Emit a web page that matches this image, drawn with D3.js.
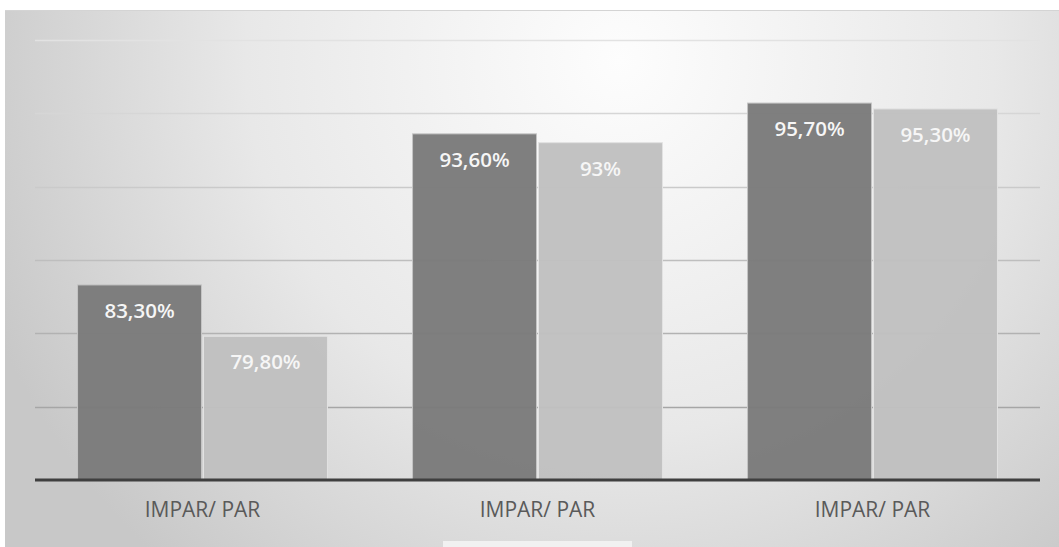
<!DOCTYPE html>
<html><head><meta charset="utf-8">
<script src="https://cdn.jsdelivr.net/npm/d3@7"></script>
<style>
html,body{margin:0;padding:0;background:#fff;}
svg{display:block;}
</style></head>
<body><svg id="chart" width="1059" height="547"></svg>
<script>
const categories = ["IMPAR/ PAR", "IMPAR/ PAR", "IMPAR/ PAR"];
const groupIds = ["g1", "g2", "g3"];
const seriesNames = ["impar", "par"];
const imparValues = [83.3, 93.6, 95.7];
const parValues = [79.8, 93.0, 95.3];
const valueLabels = [["83,30%", "79,80%"], ["93,60%", "93%"], ["95,70%", "95,30%"]];
const yTicks = [70, 75, 80, 85, 90, 95, 100];

(function () {
const W = 1059, H = 547;
const svg = d3.select("#chart");
const defs = svg.append("defs");
const grad = defs.append("radialGradient").attr("id", "bg")
  .attr("gradientUnits", "userSpaceOnUse")
  .attr("cx", 620).attr("cy", 60).attr("r", 680);
grad.append("stop").attr("offset", 0).attr("stop-color", "#fdfdfd");
grad.append("stop").attr("offset", 0.55).attr("stop-color", "#e8e8e8");
grad.append("stop").attr("offset", 1).attr("stop-color", "#c8c8c8");

svg.append("rect").attr("x", 5).attr("y", 10).attr("width", W - 5).attr("height", H - 10)
  .attr("fill", "url(#bg)");
svg.append("line").attr("x1", 5).attr("x2", W).attr("y1", 10.5).attr("y2", 10.5)
  .attr("stroke", "#d4d4d4").attr("stroke-width", 1);
svg.append("rect").attr("x", 443).attr("y", 541).attr("width", 189).attr("height", 6)
  .attr("fill", "#f1f1f1");

const mLeft = 35, mRight = 1040, mTop = 40, mBottom = 480;
const x0 = d3.scaleBand().domain(groupIds).range([mLeft, mRight])
  .paddingInner(0.254).paddingOuter(0.127);
const x1 = d3.scaleBand().domain(seriesNames).range([0, x0.bandwidth()])
  .paddingInner(0.016).paddingOuter(0);
const y = d3.scaleLinear().domain([70, 100]).range([mBottom, mTop]);

const gridColor = d3.scaleLinear().domain([100, 70]).range(["#e2e2e2", "#9a9a9a"]);
svg.append("g").selectAll("line").data(yTicks.filter(t => t > 70)).join("line")
  .attr("x1", mLeft).attr("x2", mRight)
  .attr("y1", d => Math.round(y(d)) + 0.5).attr("y2", d => Math.round(y(d)) + 0.5)
  .attr("stroke", d => gridColor(d)).attr("stroke-width", 1.3);

const data = groupIds.map((g, i) => ({g, i, vals: [imparValues[i], parValues[i]]}));
const fills = {impar: "#7b7b7b", par: "#c0c0c0"};
const strokes = {impar: "#c4c4c4", par: "#e2e2e2"};

const groups = svg.append("g").selectAll("g").data(data).join("g")
  .attr("transform", d => `translate(${x0(d.g)},0)`);
groups.selectAll("rect").data(d => seriesNames.map((s, k) => ({s, v: d.vals[k]}))).join("rect")
  .attr("x", d => x1(d.s)).attr("width", x1.bandwidth())
  .attr("y", d => y(d.v)).attr("height", d => y(70) - y(d.v))
  .attr("fill", d => fills[d.s]).attr("fill-opacity", 0.97)
  .attr("stroke", d => strokes[d.s]).attr("stroke-width", 1);
groups.selectAll("text").data(d => seriesNames.map((s, k) => ({s, v: d.vals[k], lab: valueLabels[d.i][k]}))).join("text")
  .attr("x", d => x1(d.s) + x1.bandwidth() / 2)
  .attr("y", d => y(d.v) + 26).attr("dy", "0.35em")
  .attr("text-anchor", "middle")
  .attr("font-family", "'Open Sans', sans-serif").attr("font-weight", 600)
  .attr("font-size", 20.5).attr("fill", "#f6f6f6")
  .text(d => d.lab);

svg.append("line").attr("x1", mLeft).attr("x2", mRight)
  .attr("y1", y(70)).attr("y2", y(70))
  .attr("stroke", "#3f3f3f").attr("stroke-width", 3);

const xAxis = d3.axisBottom(x0).tickSize(0).tickFormat((d, i) => categories[i]);
const ax = svg.append("g").attr("transform", `translate(0,${y(70)})`).call(xAxis);
ax.select(".domain").remove();
ax.selectAll("text").attr("dy", 0).attr("y", 37)
  .attr("font-family", "'Open Sans', sans-serif").attr("font-size", 21)
  .attr("fill", "#5a5a5a");
})();
</script></body></html>
